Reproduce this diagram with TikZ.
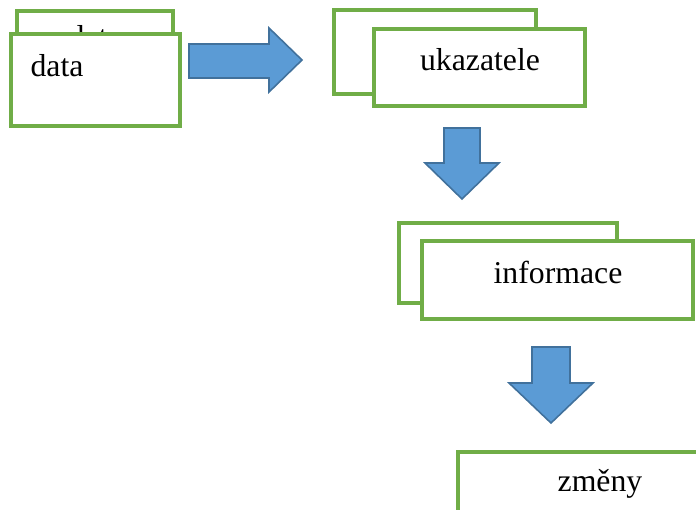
\documentclass[tikz,border=0pt]{standalone}
\usepackage{fontspec}
\setmainfont{Liberation Serif}
\usetikzlibrary{fit}

\definecolor{boxgreen}{HTML}{70AD47}
\definecolor{arrowfill}{HTML}{5B9BD5}
\definecolor{arrowline}{HTML}{41719C}

\begin{document}
\begin{tikzpicture}[x=0.567pt, y=-0.567pt, box/.style={draw=boxgreen, fill=white, line width=1.9pt, inner sep=0pt}, lbl/.style={font=\fontsize{18}{21}\selectfont, inner sep=0pt}, blockarrow/.style={draw=arrowline, fill=arrowfill, line width=0.9pt, line join=miter}]
		\clip (0, 0) rectangle (696, 510);
		
		% data
		\node[box, fit={(17, 11) (173, 103)}]		(datab) {};
		\node[lbl]									(databt) at (95, 37) {data};
		\node[box, fit={(11, 34) (180, 126)}]		(data) {};
		\node[lbl]									(datat) at (57, 66) {data};
		
		% ukazatele
		\node[box, fit={(334, 10) (536, 94)}]		(ukab) {};
		\node[box, fit={(374, 29) (585, 106)}]		(uka) {};
		\node[lbl]									(ukat) at (480, 60) {ukazatele};
		
		% informace
		\node[box, fit={(399, 223) (617, 303)}]	(infb) {};
		\node[box, fit={(422, 241) (693, 319)}]	(inf) {};
		\node[lbl]									(inft) at (558, 272) {informace};
		
		% zmeny
		\node[box, fit={(458, 452) (720, 540)}]	(zme) {};
		\node[lbl]									(zmet) at (600, 484) {změny};
		
		% arrows
		\draw[blockarrow] (189, 44) -- (269, 44) -- (269, 28) -- (302, 60) -- (269, 92) -- (269, 78) -- (189, 78) -- cycle;
		\draw[blockarrow] (444, 128) -- (480, 128) -- (480, 163) -- (499, 163) -- (462, 199) -- (425, 163) -- (444, 163) -- cycle;
		\draw[blockarrow] (532, 347) -- (570, 347) -- (570, 383) -- (593, 383) -- (551, 423) -- (509, 383) -- (532, 383) -- cycle;
	\end{tikzpicture}
\end{document}
